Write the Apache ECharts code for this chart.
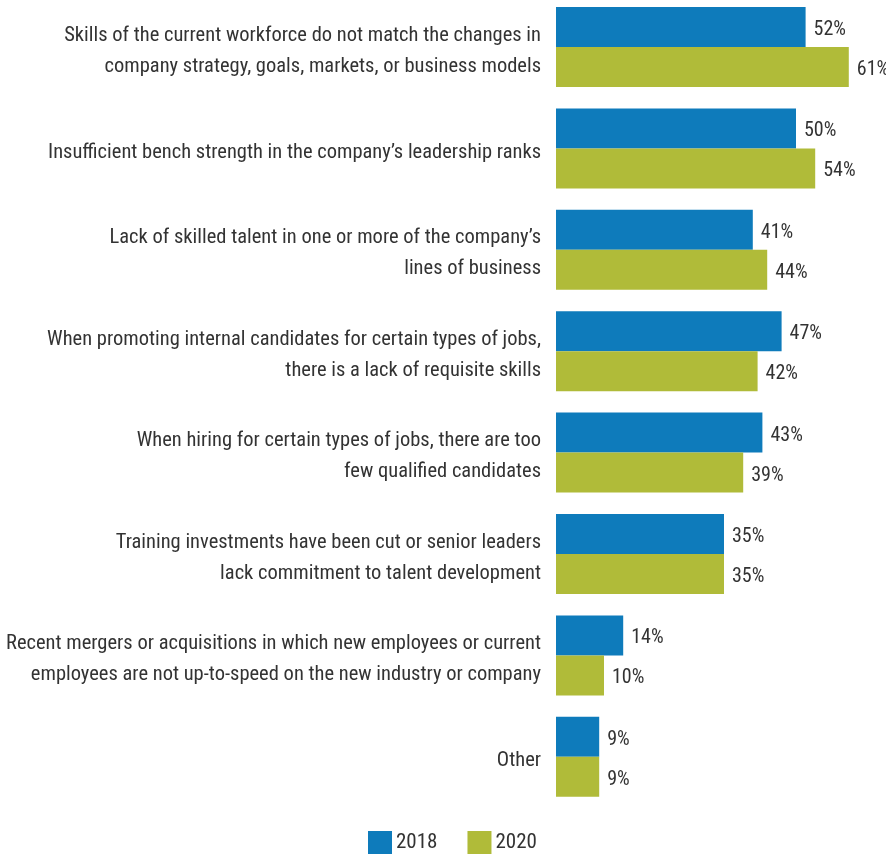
<!DOCTYPE html>
<html><head><meta charset="utf-8">
<script src="https://cdn.jsdelivr.net/npm/echarts@6/dist/echarts.min.js"></script>
<style>html,body{margin:0;padding:0;background:#fff}#c{width:886px;height:857px}</style>
</head><body><div id="c"></div>
<script>
const categories = [
  "Skills of the current workforce do not match the changes in\ncompany strategy, goals, markets, or business models",
  "Insufficient bench strength in the company\u2019s leadership ranks",
  "Lack of skilled talent in one or more of the company\u2019s\nlines of business",
  "When promoting internal candidates for certain types of jobs,\nthere is a lack of requisite skills",
  "When hiring for certain types of jobs, there are too\nfew qualified candidates",
  "Training investments have been cut or senior leaders\nlack commitment to talent development",
  "Recent mergers or acquisitions in which new employees or current\nemployees are not up-to-speed on the new industry or company",
  "Other"
];
const values2018 = [52, 50, 41, 47, 43, 35, 14, 9];
const values2020 = [61, 54, 44, 42, 39, 35, 10, 9];
const seriesNames = ["2018", "2020"];

const FONT = "'Roboto Condensed', 'Liberation Sans Narrow', sans-serif";
const chart = echarts.init(document.getElementById('c'));
const labelCfg = {show: true, position: 'right', distance: 8, offset: [0, 3], formatter: '{c}%', fontFamily: FONT, fontSize: 20, color: '#333'};
chart.setOption({
  animation: false,
  textStyle: {fontFamily: FONT},
  legend: {
    data: seriesNames, top: 831, left: 368, padding: 0, itemWidth: 24, itemHeight: 23, itemGap: 30,
    icon: 'rect', textStyle: {fontFamily: FONT, fontSize: 21, color: '#333', padding: [0, 0, 0, -1]}
  },
  grid: {left: 556, top: -3.7, height: 811.2, width: 312, outerBoundsMode: 'none', containLabel: false},
  xAxis: {type: 'value', min: 0, max: 65, show: false},
  yAxis: {
    type: 'category', data: categories, inverse: true,
    axisLine: {show: false}, axisTick: {show: false},
    axisLabel: {
      margin: 15, color: '#333', align: 'right',
      formatter: v => v.split('\n').map(l => '{a|' + l + '}').join('\n'),
      rich: {a: {fontFamily: FONT, fontSize: 20.5, color: '#333', lineHeight: 31, padding: [8, 0, 0, 0]}}
    }
  },
  series: [
    {name: seriesNames[0], type: 'bar', data: values2018, barWidth: 40, barGap: '0%', itemStyle: {color: '#0e7bbb'}, label: labelCfg},
    {name: seriesNames[1], type: 'bar', data: values2020, barWidth: 40, barGap: '0%', itemStyle: {color: '#b0bb39'}, label: labelCfg}
  ]
});
</script></body></html>
